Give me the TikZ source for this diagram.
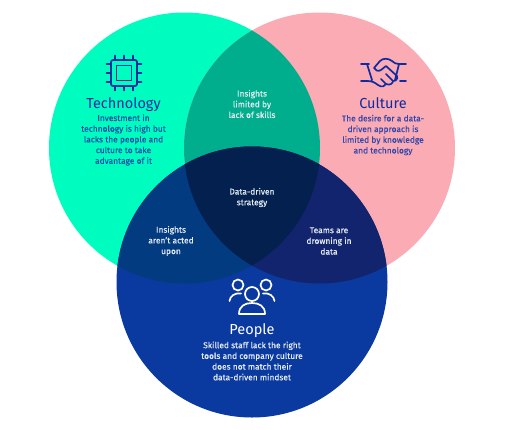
\documentclass[tikz,border=0pt]{standalone}
\usepackage{fontspec}
\setmainfont[RawFeature={embolden=0.5}]{Fira Sans}
\newfontfamily\headfont{Fira Sans}
\usepackage{xcolor}
\definecolor{techgreen}{HTML}{00FDC0}
\definecolor{culturepink}{HTML}{FBABB3}
\definecolor{peopleblue}{HTML}{0A399F}
\definecolor{techculture}{HTML}{00AD8D}
\definecolor{techpeople}{HTML}{023B80}
\definecolor{culturepeople}{HTML}{13246F}
\definecolor{allthree}{HTML}{03204F}
\definecolor{iconblue}{HTML}{0F2BA2}
\definecolor{techtext}{HTML}{1450A8}
\definecolor{culturetext}{HTML}{3448AC}
\definecolor{paletext}{HTML}{E4ECF2}
\tikzset{
    bodytext/.style={align=center, font=\fontsize{8.4}{10.7}\selectfont, inner sep=0pt},
    headtext/.style={align=center, anchor=base, font=\headfont\fontsize{14.5}{16}\selectfont, inner sep=0pt},
    iconline/.style={line width=1.7pt, line cap=round, line join=round},
}
\newcommand{\techcircle}{(184.5,148) circle (135.5)}
\newcommand{\culturecircle}{(319.5,148) circle (135.5)}
\newcommand{\peoplecircle}{(252,282) circle (135.5)}
\begin{document}
\begin{tikzpicture}[x=1pt, y=-1pt]
    \useasboundingbox (0,0) rectangle (514,429);
    \fill[white] (0,0) rectangle (514,429);

    % circles
    \fill[techgreen] \techcircle;
    \fill[culturepink] \culturecircle;
    \fill[peopleblue] \peoplecircle;

    % overlaps
    \begin{scope}
        \clip \techcircle;
        \fill[techculture] \culturecircle;
        \fill[techpeople] \peoplecircle;
    \end{scope}
    \begin{scope}
        \clip \culturecircle;
        \fill[culturepeople] \peoplecircle;
    \end{scope}
    \begin{scope}
        \clip \techcircle;
        \clip \culturecircle;
        \fill[allthree] \peoplecircle;
    \end{scope}

    % chip icon
    \draw[iconline, iconblue, rounded corners=2pt] (111,60) rectangle (137,86);
    \draw[iconline, iconblue] (116.5,65.5) rectangle (131.5,80.5);
    \foreach \p in {-9,0,9} {
        \draw[iconline, iconblue] (124+\p,55.5) -- (124+\p,60);
        \draw[iconline, iconblue] (124+\p,86) -- (124+\p,90.5);
        \draw[iconline, iconblue] (106.5,73+\p) -- (111,73+\p);
        \draw[iconline, iconblue] (137,73+\p) -- (141.5,73+\p);
    }

    % handshake icon
    \draw[iconline, iconblue] (361,64) -- (369,64) (367,64) -- (372,80) (361,81) -- (367,81)
        .. controls (372,81) and (374,82) .. (378,85) .. controls (382,88) and (385,86) .. (386,84)
        .. controls (390,86) and (393,83) .. (393,81) .. controls (396,81) and (398,79) .. (397,76)
        -- (386,66) -- (381,70) .. controls (378,72) and (375,70) .. (374,68)
        -- (380,61) .. controls (383,58) and (388,58) .. (392,61)
        .. controls (394,63) and (396,64) .. (399,64) -- (406,64)
        (399,64) -- (395,80) (400,81) -- (406,81)
        (386,84) -- (381,79) (393,81) -- (386,74);

    % people icon
    \draw[iconline, white] (252,294) circle (7);
    \draw[iconline, white] (238,285) circle (5.5);
    \draw[iconline, white] (266,285) circle (5.5);
    \draw[iconline, white] (239,314) .. controls (239,306) and (245,303) .. (252,303)
        .. controls (259,303) and (265,306) .. (265,314) -- cycle;
    \draw[iconline, white] (229.5,301) .. controls (230,296) and (235,292.5) .. (241,293.5);
    \draw[iconline, white] (274.5,301) .. controls (274,296) and (269,292.5) .. (263,293.5);

    % labels
    \node[headtext, text=iconblue] (techhead) at (123.5,108.5) {Technology};
    \node[bodytext, text=techtext] (techbody) at (123.5,140) {Investment in\\technology is high but\\lacks the people and\\culture to take\\advantage of it};
    \node[headtext, text=iconblue] (culturehead) at (383,108.5) {Culture};
    \node[bodytext, text=culturetext] (culturebody) at (383,135) {The desire for a data-\\driven approach is\\limited by knowledge\\and technology};
    \node[headtext, text=white] (peoplehead) at (252,334) {People};
    \node[bodytext, text=paletext] (peoplebody) at (252,361) {Skilled staff lack the right\\tools and company culture\\does not match their\\data-driven mindset};
    \node[bodytext, text=paletext] (skills) at (252,104) {Insights\\limited by\\lack of skills};
    \node[bodytext, text=paletext] (strategy) at (252,197.5) {Data-driven\\strategy};
    \node[bodytext, text=paletext] (acted) at (171,241) {Insights\\aren't acted\\upon};
    \node[bodytext, text=paletext] (drowning) at (329,241) {Teams are\\drowning in\\data};
\end{tikzpicture}
\end{document}
